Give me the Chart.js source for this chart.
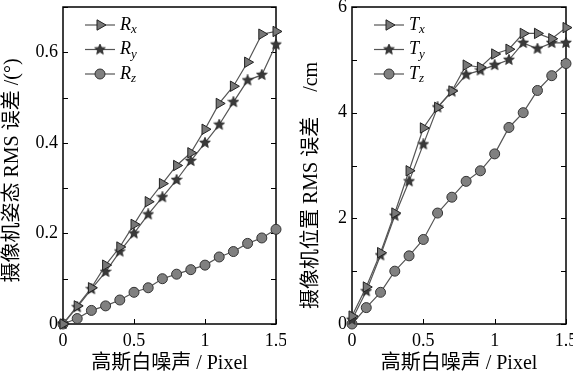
<!DOCTYPE html>
<html>
<head>
<meta charset="utf-8">
<script src="https://cdn.jsdelivr.net/npm/chart.js@4/dist/chart.umd.min.js"></script>
<style>
  body { margin: 0; background: #fff; }
  #left { position: absolute; left: 0; top: 0; }
  #right { position: absolute; left: 286px; top: 0; }
</style>
</head>
<body>
<canvas id="left" width="286" height="378"></canvas>
<canvas id="right" width="287" height="378"></canvas>
<script>
// 高斯白噪声 (Pixel)
const noise = [0, 0.1, 0.2, 0.3, 0.4, 0.5, 0.6, 0.7, 0.8, 0.9, 1.0, 1.1, 1.2, 1.3, 1.4, 1.5];

// 姿态误差 (°)
const rotLabels = ["Rx", "Ry", "Rz"];
const rx = [0, 0.04, 0.08, 0.13, 0.17, 0.22, 0.27, 0.31, 0.35, 0.378, 0.43, 0.487, 0.525, 0.578, 0.64, 0.646];
const ry = [0, 0.037, 0.077, 0.115, 0.16, 0.2, 0.242, 0.28, 0.318, 0.36, 0.4, 0.44, 0.49, 0.538, 0.55, 0.617];
const rz = [0, 0.012, 0.03, 0.04, 0.053, 0.07, 0.08, 0.1, 0.11, 0.12, 0.13, 0.148, 0.16, 0.178, 0.19, 0.209];

// 位置误差 (cm)
const posLabels = ["Tx", "Ty", "Tz"];
const tx = [0.15, 0.7, 1.35, 2.1, 2.9, 3.71, 4.1, 4.41, 4.9, 4.86, 5.11, 5.2, 5.5, 5.5, 5.4, 5.61];
const ty = [0.08, 0.62, 1.3, 2.05, 2.7, 3.4, 4.1, 4.4, 4.72, 4.8, 4.9, 5.0, 5.32, 5.21, 5.32, 5.32];
const tz = [0, 0.31, 0.6, 1.0, 1.29, 1.6, 2.1, 2.4, 2.7, 2.9, 3.22, 3.72, 4.0, 4.42, 4.7, 4.93];

const serif = '"Liberation Serif", "Noto Sans CJK SC", serif';

// маленькая звёздочка для второй серии
function makeStar() {
  const c = document.createElement("canvas");
  c.width = 12; c.height = 12;
  const g = c.getContext("2d");
  g.beginPath();
  for (let i = 0; i < 10; i++) {
    const r = i % 2 ? 2.5 : 5.6;
    const a = -Math.PI / 2 + i * Math.PI / 5;
    g.lineTo(6 + r * Math.cos(a), 6 + r * Math.sin(a));
  }
  g.closePath();
  g.fillStyle = "#3a3a3a";
  g.fill();
  g.strokeStyle = "#222";
  g.lineWidth = 0.8;
  g.stroke();
  return c;
}
const star = makeStar();

const styles = [
  { pointStyle: "triangle", pointRotation: 90, pointRadius: 6, pointBackgroundColor: "#777", pointBorderColor: "#222" },
  { pointStyle: star, pointRotation: 0, pointRadius: 5, pointBackgroundColor: "#333", pointBorderColor: "#222" },
  { pointStyle: "circle", pointRotation: 0, pointRadius: 5, pointBackgroundColor: "#808080", pointBorderColor: "#333" },
];

function makeDatasets(labels, series) {
  return series.map((vals, i) => ({
    label: labels[i],
    data: noise.map((x, k) => ({ x: x, y: vals[k] })),
    borderColor: "#555",
    borderWidth: 1.2,
    pointBorderWidth: 1,
    clip: false,
    ...styles[i],
  }));
}

// рамка и внутренние засечки
const framePlugin = {
  id: "frame",
  beforeDatasetsDraw(chart) {
    const { ctx, chartArea: a, scales } = chart;
    ctx.save();
    ctx.strokeStyle = "#000";
    ctx.lineWidth = 1.5;
    ctx.strokeRect(a.left, a.top, a.width, a.height);
    ctx.lineWidth = 1;
    ctx.beginPath();
    scales.y.ticks.forEach((t) => {
      const py = Math.round(scales.y.getPixelForValue(t.value)) + 0.5;
      ctx.moveTo(a.left, py); ctx.lineTo(a.left + 5, py);
      ctx.moveTo(a.right, py); ctx.lineTo(a.right - 5, py);
    });
    scales.x.ticks.forEach((t) => {
      const px = Math.round(scales.x.getPixelForValue(t.value)) + 0.5;
      ctx.moveTo(px, a.bottom); ctx.lineTo(px, a.bottom - 5);
    });
    ctx.stroke();
    ctx.restore();
  },
};

// легенда внутри графика
const legendPlugin = {
  id: "insideLegend",
  afterDatasetsDraw(chart) {
    const { ctx, chartArea: a } = chart;
    chart.data.datasets.forEach((ds, i) => {
      const y = a.top + 18 + i * 24.5;
      const x0 = a.left + 22, x1 = a.left + 52;
      ctx.save();
      ctx.strokeStyle = ds.borderColor;
      ctx.lineWidth = ds.borderWidth;
      ctx.beginPath(); ctx.moveTo(x0, y); ctx.lineTo(x1, y); ctx.stroke();
      ctx.fillStyle = ds.pointBackgroundColor;
      ctx.strokeStyle = ds.pointBorderColor;
      ctx.lineWidth = 1;
      Chart.helpers.drawPoint(ctx, { pointStyle: ds.pointStyle, radius: ds.pointRadius, rotation: ds.pointRotation, borderWidth: 1 }, (x0 + x1) / 2, y);
      ctx.fillStyle = "#000";
      ctx.textBaseline = "middle";
      ctx.textAlign = "left";
      ctx.font = 'italic 18px "Liberation Serif"';
      const letter = ds.label.slice(0, 1);
      ctx.fillText(letter, x1 + 5, y);
      const w = ctx.measureText(letter).width;
      ctx.font = 'italic 13px "Liberation Serif"';
      ctx.fillText(ds.label.slice(1), x1 + 5 + w, y + 5);
      ctx.restore();
    });
  },
};

function makeChart(el, datasets, yOpts, pad, yWidth) {
  return new Chart(el, {
    type: "line",
    data: { datasets: datasets },
    plugins: [framePlugin, legendPlugin],
    options: {
      responsive: false,
      animation: false,
      layout: { padding: pad },
      plugins: { legend: { display: false }, tooltip: { enabled: false } },
      scales: {
        x: {
          type: "linear",
          min: 0, max: 1.5,
          grid: { display: false, drawTicks: false },
          border: { display: false },
          ticks: {
            stepSize: 0.5,
            padding: 6,
            color: "#000",
            font: { family: serif, size: 18 },
            callback: (v) => (v === 0 ? "0" : String(v)),
          },
          title: {
            display: true,
            text: "高斯白噪声 / Pixel",
            color: "#000",
            font: { family: serif, size: 20 },
            padding: { top: 0, bottom: 2 },
          },
          afterFit: (s) => { s.height = 54; s.paddingLeft = 0; s.paddingRight = 0; },
        },
        y: {
          min: 0, max: yOpts.max,
          grid: { display: false, drawTicks: false },
          border: { display: false },
          ticks: {
            stepSize: yOpts.step,
            padding: 5,
            color: "#000",
            font: { family: serif, size: 18 },
            callback: yOpts.fmt,
          },
          title: {
            display: true,
            text: yOpts.title,
            color: "#000",
            font: { family: serif, size: 20 },
            padding: { top: 1, bottom: 0 },
          },
          afterFit: (s) => { s.width = yWidth; s.paddingTop = 0; s.paddingBottom = 0; },
        },
      },
    },
  });
}

makeChart(
  document.getElementById("left"),
  makeDatasets(rotLabels, [rx, ry, rz]),
  {
    max: 0.7, step: 0.1,
    title: "摄像机姿态 RMS 误差 /(°)  ",
    fmt: (v) => { const k = Math.round(v * 10); return k % 2 ? "" : (k === 0 ? "0" : v.toFixed(1)); },
  },
  { left: 0, top: 7, right: 10, bottom: 0 },
  63
);

makeChart(
  document.getElementById("right"),
  makeDatasets(posLabels, [tx, ty, tz]),
  {
    max: 6, step: 1,
    title: "摄像机位置 RMS 误差\u3000 /cm\u3000\u3000",
    fmt: (v) => (v % 2 ? "" : String(v)),
  },
  { left: 13, top: 7, right: 7, bottom: 0 },
  53
);
</script>
</body>
</html>
